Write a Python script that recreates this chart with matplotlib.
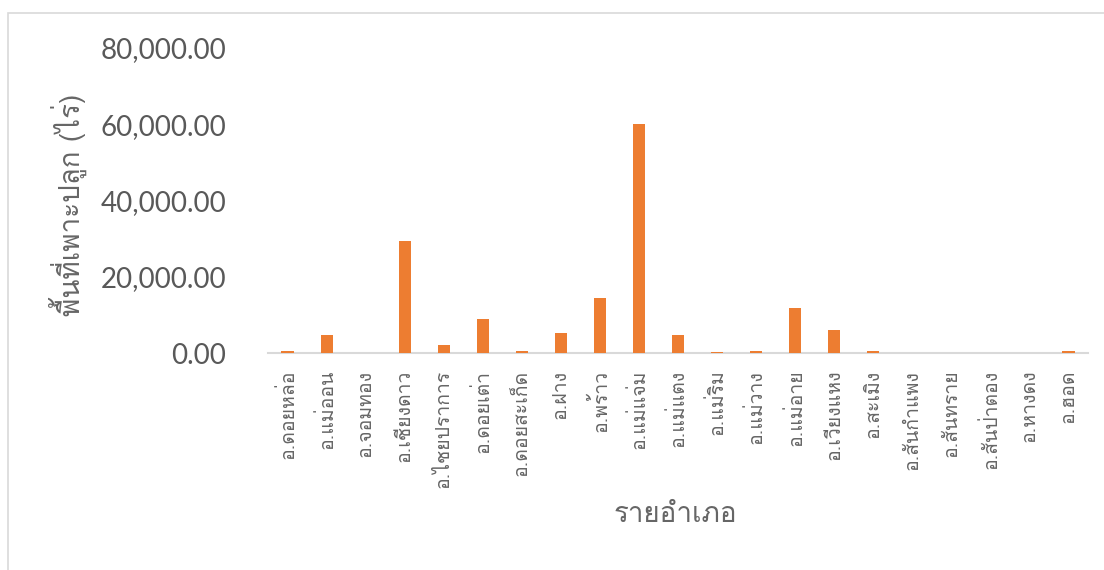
import matplotlib
matplotlib.use("Agg")
import matplotlib.pyplot as plt
from matplotlib import font_manager
from matplotlib.ft2font import FT2Font
from matplotlib.ticker import FuncFormatter

districts = [
    "อ.ดอยหล่อ", "อ.แม่ออน", "อ.จอมทอง", "อ.เชียงดาว", "อ.ไชยปราการ",
    "อ.ดอยเต่า", "อ.ดอยสะเก็ด", "อ.ฝาง", "อ.พร้าว", "อ.แม่แจ่ม",
    "อ.แม่แตง", "อ.แม่ริม", "อ.แม่วาง", "อ.แม่อาย", "อ.เวียงแหง",
    "อ.สะเมิง", "อ.สันกำแพง", "อ.สันทราย", "อ.สันป่าตอง", "อ.หางดง", "อ.ฮอด",
]
area_rai = [
    650, 4800, 100, 29500, 2000,
    8900, 650, 5300, 14500, 60000,
    4700, 150, 550, 11800, 6000,
    400, 0, 100, 0, 100, 500,
]
y_ticks = [0, 20000, 40000, 60000, 80000]
y_title = "พื้นที่เพาะปลูก (ไร่)"
x_title = "รายอำเภอ"


def find_thai_font():
    """Return the name of an installed font that has Thai glyphs."""
    seen = set()
    for entry in font_manager.fontManager.ttflist:
        if entry.fname in seen:
            continue
        seen.add(entry.fname)
        try:
            font = FT2Font(entry.fname)
            if font.get_char_index(0x0E01) and font.get_char_index(0x0E2D):
                return entry.name
        except Exception:
            continue
    return None


thai = find_thai_font()
thai_families = ([thai] if thai else []) + ["DejaVu Sans"]
plt.rcParams["font.family"] = thai_families

GREY = "#595959"
ORANGE = "#ED7D31"

fig = plt.figure(figsize=(11.04, 5.70), dpi=100)
# excel-like chart border
fig.patches.append(plt.Rectangle((8 / 1104, -0.1), 1.2, (570 - 13) / 570 + 0.1,
                                 transform=fig.transFigure, fill=False,
                                 edgecolor="#D9D9D9", linewidth=1.2))
ax = fig.add_axes([268 / 1104, (570 - 353) / 570, (1088 - 268) / 1104, (353 - 48) / 570])

x = range(len(districts))
ax.bar(x, area_rai, width=0.31, color=ORANGE, zorder=3)

ax.set_ylim(0, 80000)
ax.set_xlim(-0.5, len(districts) - 0.5)
ax.set_yticks(y_ticks)
ax.yaxis.set_major_formatter(FuncFormatter(lambda v, _: f"{v:,.2f}"))
ax.tick_params(axis="y", length=0, labelsize=20, labelcolor=GREY, pad=30)
for lbl in ax.get_yticklabels():
    lbl.set_fontfamily(["Lato", "DejaVu Sans"])
ax.set_xticks(list(x))
ax.set_xticklabels(districts, rotation=90, fontsize=14, color="#666666")
ax.tick_params(axis="x", length=0, pad=12)

for side in ["top", "right", "left"]:
    ax.spines[side].set_visible(False)
ax.spines["bottom"].set_color("#D9D9D9")
ax.spines["bottom"].set_linewidth(1.5)

fig.text(68 / 1104, 1 - 205 / 570, y_title, fontsize=20, color="#666666",
         rotation=90, ha="center", va="center")
fig.text(675 / 1104, 1 - 515 / 570, x_title, fontsize=20, color="#666666",
         ha="center", va="center")

fig.savefig("out.png", dpi=100)
